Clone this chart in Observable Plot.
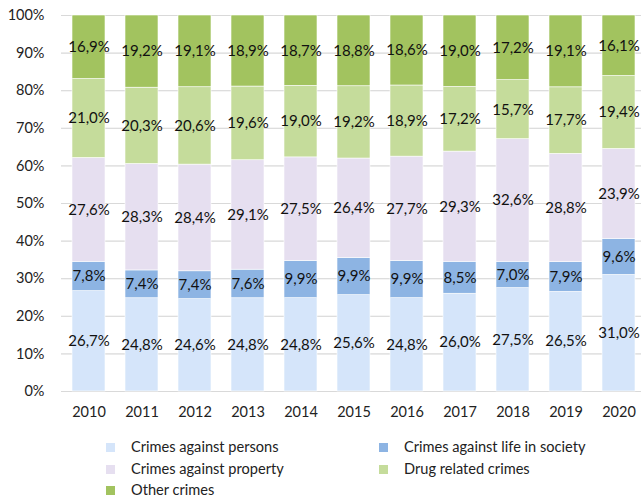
<!DOCTYPE html>
<html>
<head>
<meta charset="utf-8">
<script src="https://cdn.jsdelivr.net/npm/d3@7"></script>
<script src="https://cdn.jsdelivr.net/npm/@observablehq/plot@0.6"></script>
<style>
  body { margin: 0; background: #fff; font-family: Lato, "Open Sans", sans-serif; }
  #wrap { position: relative; width: 641px; height: 497px; overflow: hidden; }
  .leg { position: absolute; font-size: 14.6px; line-height: 16px; height: 16px; color: #222; display: flex; align-items: center; white-space: nowrap; }
  .leg span.sw { width: 9px; height: 9px; display: inline-block; margin-right: 16px; }
</style>
</head>
<body>
<div id="wrap"></div>
<script>
const years = ["2010","2011","2012","2013","2014","2015","2016","2017","2018","2019","2020"];
const seriesNames = ["Crimes against persons","Crimes against life in society","Crimes against property","Drug related crimes","Other crimes"];
const persons  = [26.7, 24.8, 24.6, 24.8, 24.8, 25.6, 24.8, 26.0, 27.5, 26.5, 31.0];
const life     = [7.8, 7.4, 7.4, 7.6, 9.9, 9.9, 9.9, 8.5, 7.0, 7.9, 9.6];
const property = [27.6, 28.3, 28.4, 29.1, 27.5, 26.4, 27.7, 29.3, 32.6, 28.8, 23.9];
const drug     = [21.0, 20.3, 20.6, 19.6, 19.0, 19.2, 18.9, 17.2, 15.7, 17.7, 19.4];
const other    = [16.9, 19.2, 19.1, 18.9, 18.7, 18.8, 18.6, 19.0, 17.2, 19.1, 16.1];
const colors   = ["#d5e5fa", "#8db4e3", "#e6dff0", "#c5dc9b", "#a2c35f"];
const yTicks   = [0,0.1,0.2,0.3,0.4,0.5,0.6,0.7,0.8,0.9,1];

const allSeries = [persons, life, property, drug, other];
const rows = [];
years.forEach((yr, i) => {
  allSeries.forEach((arr, s) => {
    rows.push({year: yr, series: seriesNames[s], value: arr[i], order: s});
  });
});
const fmt = v => v.toFixed(1).replace(".", ",") + "%";

const chart = Plot.plot({
  width: 641,
  height: 430,
  marginTop: 15,
  marginBottom: 39,
  marginLeft: 61,
  marginRight: 0,
  style: {fontFamily: "Lato, 'Open Sans', sans-serif", fontSize: "14px", color: "#222", background: "white"},
  x: {domain: years, range: [59.3, 648], paddingInner: 0.38, paddingOuter: 0.19, label: null, tickSize: 0, tickPadding: 15},
  y: {domain: [0, 1], ticks: yTicks, tickFormat: d => Math.round(d * 100) + "%", label: null, tickSize: 0, tickPadding: 17, grid: true},
  color: {domain: seriesNames, range: colors},
  marks: [
    Plot.gridY(yTicks, {stroke: "#d9d9d9", strokeOpacity: 1, strokeWidth: 1}),
    Plot.barY(rows, Plot.stackY({offset: "normalize", order: (d) => d.order}, {x: "year", y: "value", z: "series", fill: "series", stroke: "white", strokeWidth: 0.6})),
    Plot.text(rows, Plot.stackY({offset: "normalize", order: (d) => d.order}, {x: "year", y: "value", z: "series", text: d => fmt(d.value), fill: "#111", fontSize: 15})),
    Plot.axisY({ticks: yTicks, tickFormat: d => Math.round(d * 100) + "%", tickSize: 0, tickPadding: 17, label: null, fontSize: 14.5}),
    Plot.axisX({tickSize: 0, tickPadding: 15, label: null, fontSize: 14.5})
  ]
});
const wrap = document.getElementById("wrap");
wrap.appendChild(chart);

const legendPos = [
  {left: 106, top: 447}, {left: 379, top: 447},
  {left: 106, top: 469}, {left: 379, top: 469},
  {left: 106, top: 490}
];
seriesNames.forEach((name, i) => {
  const d = document.createElement("div");
  d.className = "leg";
  d.style.left = legendPos[i].left + "px";
  d.style.top = (legendPos[i].top - 8) + "px";
  d.innerHTML = `<span class="sw" style="background:${colors[i]}"></span><span>${name}</span>`;
  wrap.appendChild(d);
});
</script>
</body>
</html>
